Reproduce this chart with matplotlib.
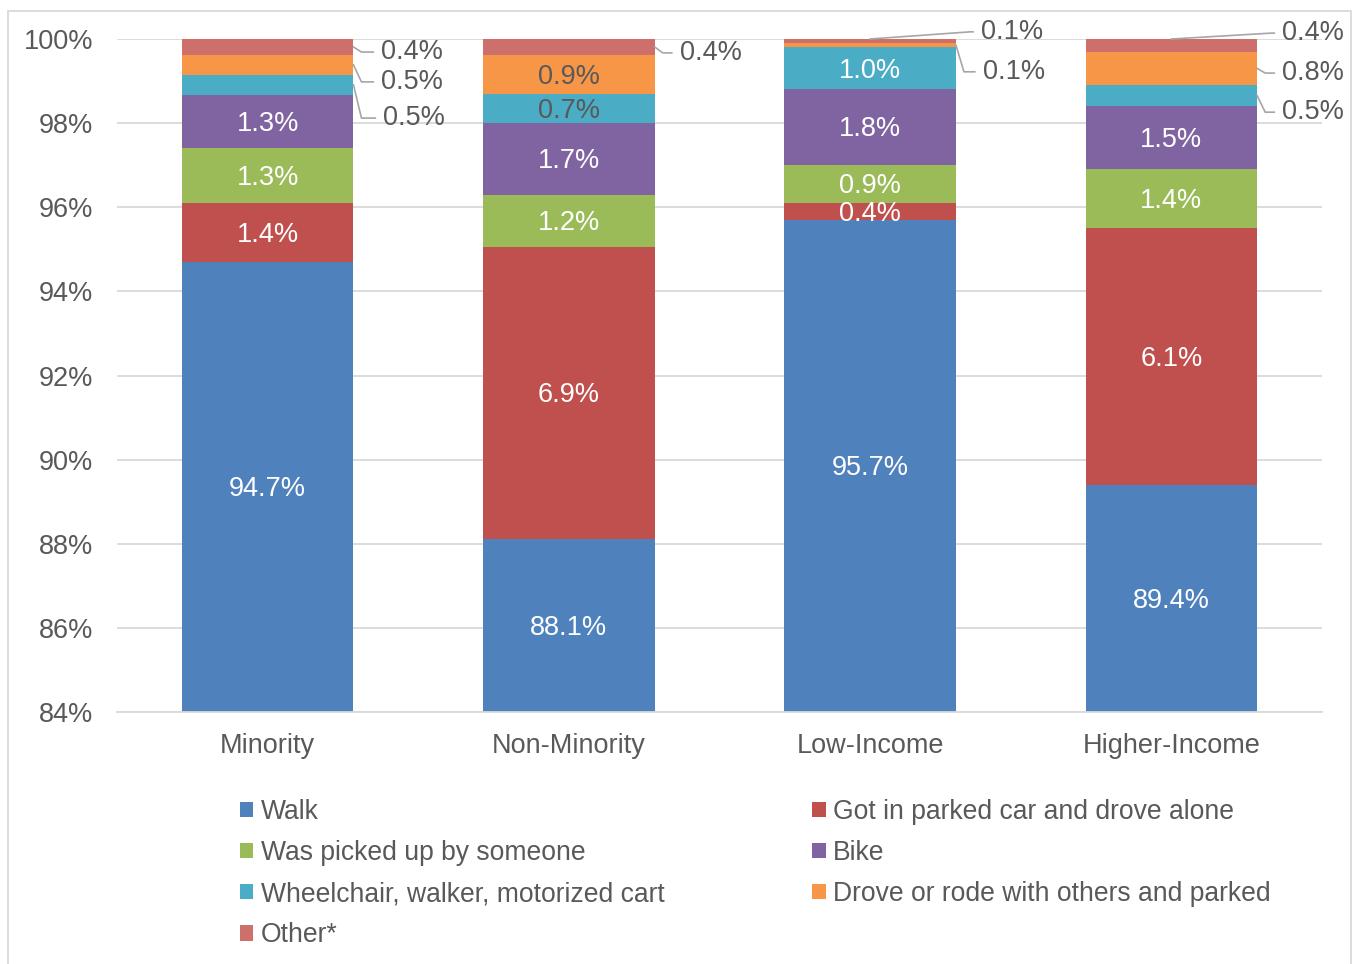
import matplotlib
import matplotlib.pyplot as plt
from matplotlib.patches import Rectangle, Patch
import numpy as np

matplotlib.rcParams["font.family"] = ["Liberation Sans", "DejaVu Sans"]

# ============================================================
# 数据
# ============================================================
categories = ["Minority", "Non-Minority", "Low-Income", "Higher-Income"]
series_names = [
    "Walk",
    "Got in parked car and drove alone",
    "Was picked up by someone",
    "Bike",
    "Wheelchair, walker, motorized cart",
    "Drove or rode with others and parked",
    "Other*",
]
walk = [94.7, 88.11, 95.7, 89.4]
drove_alone = [1.4, 6.94, 0.4, 6.1]
picked_up = [1.3, 1.24, 0.9, 1.4]
bike = [1.27, 1.71, 1.8, 1.5]
wheelchair = [0.48, 0.69, 1.0, 0.5]
drove_others = [0.47, 0.93, 0.1, 0.8]
other = [0.4, 0.38, 0.1, 0.4]
values = [walk, drove_alone, picked_up, bike, wheelchair, drove_others, other]

COLORS = ["#4F81BD", "#C0504D", "#9BBB59", "#8064A2", "#4BACC6", "#F79646", "#CD706C"]
TEXT = "#595959"
GRID = "#D9D9D9"
FS = 19.5
LEG_FS = 19.1
YMIN, YMAX = 84, 100
BAR_W = 0.57

# (类别, 系列, 文字x偏移, 文字y, 引线起点在柱中心?)
outside = [
    (0, 6, 0.377, 99.69, False),
    (0, 5, 0.377, 98.98, False),
    (0, 4, 0.384, 98.12, False),
    (1, 6, 0.368, 99.67, False),
    (2, 6, 0.368, 100.17, True),
    (2, 5, 0.374, 99.22, False),
    (3, 6, 0.368, 100.14, True),
    (3, 5, 0.368, 99.19, False),
    (3, 4, 0.368, 98.26, False),
]
dark_labels = {(1, 5), (1, 4)}

fig = plt.figure(figsize=(13.54, 9.64), dpi=100)
ax = fig.add_axes([117 / 1354, 1 - 712 / 964, 1205 / 1354, 673 / 964])

x = np.arange(len(categories))
bottom = np.zeros(len(categories))
for i, vals in enumerate(values):
    ax.bar(x, vals, BAR_W, bottom=bottom, color=COLORS[i], linewidth=0, zorder=2)
    bottom = bottom + np.array(vals)

ax.set_ylim(YMIN, YMAX)
ax.set_xlim(-0.5, 3.5)
ax.set_yticks(np.arange(84, 101, 2))
ax.set_yticklabels([f"{t}%" for t in range(84, 101, 2)])
ax.set_xticks(x)
ax.set_xticklabels(categories)
ax.tick_params(length=0, labelsize=FS, labelcolor=TEXT)
ax.tick_params(axis="y", pad=17)
ax.tick_params(axis="x", pad=15)
ax.grid(axis="y", color=GRID, linewidth=1.3, zorder=0)
for s in ["top", "right", "left"]:
    ax.spines[s].set_visible(False)
ax.spines["bottom"].set_color(GRID)
ax.spines["bottom"].set_linewidth(1.3)

# 柱内标注
out_keys = {(c, s) for c, s, *_ in outside}
cum = np.cumsum(np.array(values), axis=0)
for s in range(len(values)):
    for c in range(len(categories)):
        if (c, s) in out_keys:
            continue
        top = min(cum[s][c], YMAX)
        low = max(cum[s][c] - values[s][c], YMIN)
        col = TEXT if (c, s) in dark_labels else "white"
        ax.text(c, (top + low) / 2 - 0.05, f"{values[s][c]:.1f}%", ha="center", va="center",
                fontsize=FS, color=col, zorder=4)

# 柱外标注 + 引线
px = 1 / 302
for c, s, dx, ty, from_center in outside:
    top = min(cum[s][c], YMAX)
    low = cum[s][c] - values[s][c]
    ay = (top + low) / 2
    if from_center:
        xs = [c, c + dx - 11 * px, c + dx - 8 * px]
        ys = [YMAX, ty, ty]
    else:
        ex = c + BAR_W / 2
        xs = [ex, ex + 8 * px, c + dx - 8 * px]
        ys = [ay, ty, ty]
    ax.plot(xs, ys, color="#A6A6A6", linewidth=1.2, clip_on=False, zorder=3)
    ax.text(c + dx, ty, f"{values[s][c]:.1f}%", ha="left", va="center",
            fontsize=FS, color=TEXT, zorder=4, clip_on=False)

# 图例（两列，按行顺序）
order = [0, 2, 4, 6, 1, 3, 5]
handles = [Patch(facecolor=COLORS[i], edgecolor="none") for i in order]
labels = [series_names[i] for i in order]
fig.legend(handles, labels, ncol=2, loc="upper left",
           bbox_to_anchor=(240 / 1354, 1 - 799 / 964), frameon=False,
           fontsize=LEG_FS, labelcolor=TEXT, borderpad=0, borderaxespad=0,
           handlelength=0.5, handleheight=0.5, handletextpad=0.28,
           labelspacing=0.57, columnspacing=5.58)

# 图表边框
fig.patches.append(Rectangle((8 / 1354, -0.01), 1343 / 1354, 1 - 11 / 964 + 0.01,
                             transform=fig.transFigure, fill=False,
                             edgecolor=GRID, linewidth=1.3))

fig.savefig("out.png", dpi=100)
